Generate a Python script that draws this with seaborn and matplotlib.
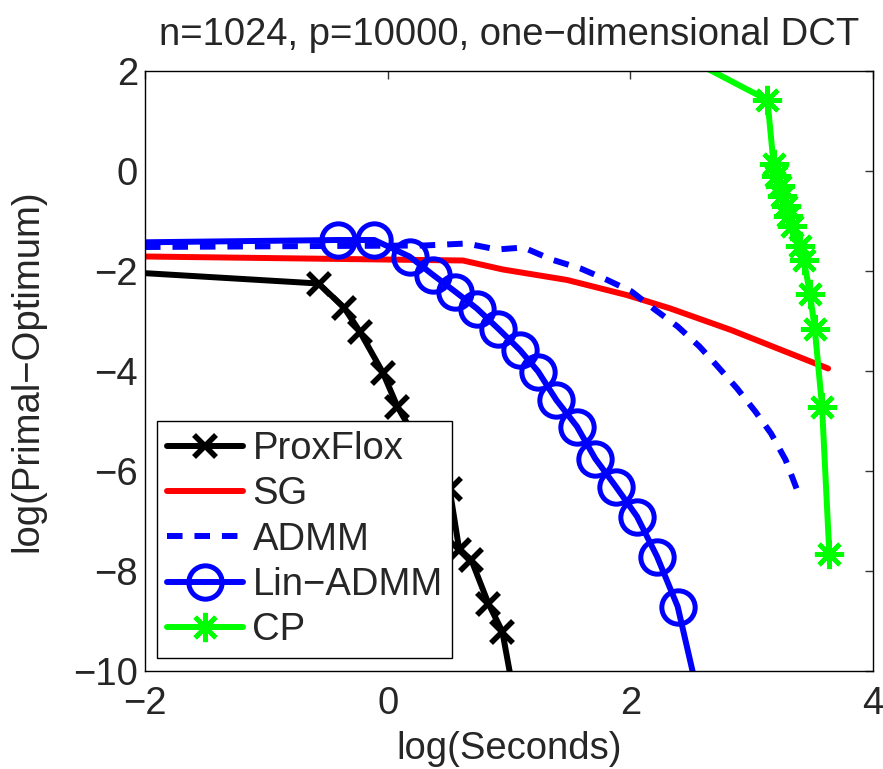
import matplotlib
matplotlib.use("Agg")
import matplotlib.pyplot as plt
import seaborn as sns
import numpy as np

# ---- data ----
prox_x = [-2.3, -0.57, -0.36, -0.23, -0.04, 0.08, 0.22, 0.38, 0.51, 0.59, 0.69, 0.83, 0.945, 1.05]
prox_y = [-2.0, -2.25, -2.73, -3.21, -4.03, -4.71, -5.30, -5.90, -6.35, -7.58, -7.78, -8.65, -9.21, -10.6]

sg_x = [-2.0, 0.62, 0.95, 1.48, 1.97, 2.33, 2.83, 3.63]
sg_y = [-1.71, -1.79, -1.97, -2.18, -2.48, -2.75, -3.18, -3.95]

admm_x = [-2.0, -0.5, 0.3, 0.65, 0.9, 1.12, 1.35, 1.59, 1.81, 2.01, 2.19, 2.39, 2.57, 2.72, 2.88, 3.03, 3.16, 3.28, 3.37]
admm_y = [-1.52, -1.50, -1.49, -1.45, -1.57, -1.53, -1.77, -1.95, -2.18, -2.41, -2.75, -3.11, -3.51, -3.91, -4.35, -4.81, -5.25, -5.78, -6.35]

lin_x = [-2.5, -0.41, -0.11, 0.18, 0.375, 0.555, 0.735, 0.91, 1.09, 1.24, 1.39, 1.56, 1.71, 1.88, 2.055, 2.22, 2.39, 2.56]
lin_y = [-1.44, -1.38, -1.38, -1.71, -2.08, -2.41, -2.75, -3.15, -3.58, -4.01, -4.58, -5.11, -5.75, -6.31, -6.91, -7.71, -8.71, -10.5]

cp_x = [2.3, 3.13, 3.18, 3.20, 3.23, 3.25, 3.28, 3.30, 3.33, 3.40, 3.43, 3.48, 3.52, 3.58, 3.64]
cp_y = [2.47, 1.42, 0.15, -0.10, -0.30, -0.50, -0.70, -0.90, -1.10, -1.50, -1.78, -2.45, -3.15, -4.71, -7.65]

labels = ["ProxFlox", "SG", "ADMM", "Lin\u2212ADMM", "CP"]
xticks = [-2, 0, 2, 4]
yticks = [2, 0, -2, -4, -6, -8, -10]

# ---- style ----
sns.set_style("white")
plt.rcParams['font.family'] = ['Liberation Sans', 'DejaVu Sans']
plt.rcParams['axes.unicode_minus'] = True
FS = 27.5

fig = plt.figure(figsize=(8.83, 7.69), dpi=100)
ax = fig.add_axes([145/883, 1-671/769, (873-145)/883, (671-71)/769])

LW = 4.3
sns.lineplot(x=prox_x, y=prox_y, ax=ax, sort=False, estimator=None, color="black",
             lw=LW, marker="x", markersize=16, markeredgewidth=4.0,
             markeredgecolor="black", label=labels[0])
sns.lineplot(x=sg_x, y=sg_y, ax=ax, sort=False, estimator=None, color="#ff0000",
             lw=LW, label=labels[1])
sns.lineplot(x=admm_x, y=admm_y, ax=ax, sort=False, estimator=None, color="#0000ff",
             lw=LW, linestyle=(0, (2.6, 2.0)), label=labels[2])
sns.lineplot(x=lin_x, y=lin_y, ax=ax, sort=False, estimator=None, color="#0000ff",
             lw=LW, marker="o", markersize=24, markerfacecolor="none",
             markeredgecolor="#0000ff", markeredgewidth=3.6, label=labels[3])
sns.lineplot(x=cp_x, y=cp_y, ax=ax, sort=False, estimator=None, color="#00ff00",
             lw=LW, marker=(8, 2, 0), markersize=21, markeredgewidth=3.4,
             markeredgecolor="#00ff00", label=labels[4])

ax.set_xlim(-2, 4)
ax.set_ylim(-10, 2)
ax.set_xticks(xticks)
ax.set_yticks(yticks)
ax.tick_params(direction="in", top=True, right=True, length=6, width=1,
               color="#333333", labelsize=FS)
ax.tick_params(axis="x", pad=11)
ax.tick_params(axis="y", pad=5)
for s in ax.spines.values():
    s.set_color("black")
    s.set_linewidth(1.0)

ax.set_xlabel("log(Seconds)", fontsize=FS, labelpad=6)
ax.set_ylabel("log(Primal\u2212Optimum)", fontsize=FS, labelpad=20)
ax.set_title("n=1024, p=10000, one\u2212dimensional DCT", fontsize=FS, pad=19)

leg = ax.legend(loc="lower left", bbox_to_anchor=((157-145)/728, (671-658)/600),
                fontsize=FS, frameon=True, fancybox=False,
                edgecolor="black", framealpha=1, borderaxespad=0,
                handlelength=2.0, handletextpad=0.25, labelspacing=0.245,
                borderpad=0.25)
leg.get_frame().set_linewidth(1.0)

fig.savefig("out.png", dpi=100)
